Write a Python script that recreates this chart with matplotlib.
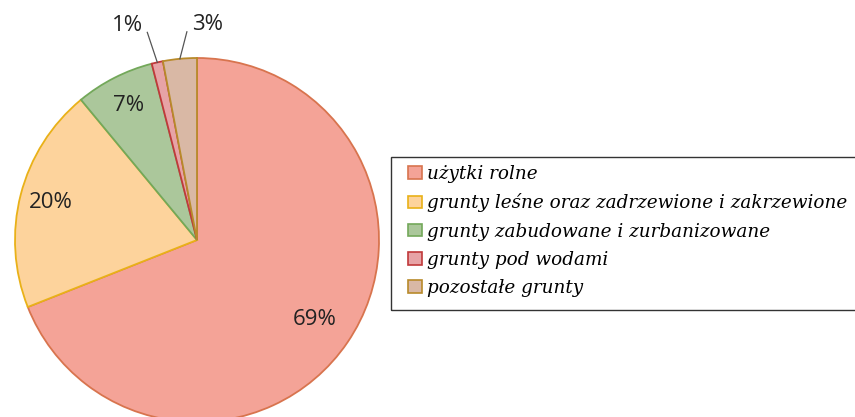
import matplotlib.pyplot as plt
import matplotlib.patches as mpatches
import numpy as np

labels = ['użytki rolne',
          'grunty leśne oraz zadrzewione i zakrzewione',
          'grunty zabudowane i zurbanizowane',
          'grunty pod wodami',
          'pozostałe grunty']
values = [69, 20, 7, 1, 3]
pct_text = ['69%', '20%', '7%', '1%', '3%']

face = ['#f4a397', '#fdd39c', '#abc79b', '#e7a3a6', '#d9b8a5']
edge = ['#d8744e', '#e9b118', '#73a85a', '#c0393b', '#b88a2a']

fig = plt.figure(figsize=(8.55, 4.17), dpi=100)
ax = fig.add_axes([0, 0, 1, 1])

cx, cy, r = 197, 177, 182
wedges, _ = ax.pie(values, colors=face, startangle=90, counterclock=False,
                   center=(cx, cy), radius=r, frame=True,
                   wedgeprops=dict(linewidth=1.3))
for w, ec in zip(wedges, edge):
    w.set_edgecolor(ec)
ax.set_xlim(0, 855)
ax.set_ylim(0, 417)
ax.set_aspect('equal')
ax.axis('off')

# inside labels
inside_dist = [0.78, 0.83, 0.83]
for w, t, d in zip(wedges[:3], pct_text[:3], inside_dist):
    a = np.deg2rad((w.theta1 + w.theta2) / 2)
    ax.text(cx + d * r * np.cos(a), cy + d * r * np.sin(a), t,
            ha='center', va='center', fontsize=16, family='Open Sans',
            color='#222222')

# outside labels with leader lines
text_off = [(-30, 37), (28, 34)]
line_end = [(-10, 30), (7, 27)]
for w, t, off, le in zip(wedges[3:], pct_text[3:], text_off, line_end):
    a = np.deg2rad((w.theta1 + w.theta2) / 2)
    ex, ey = cx + r * np.cos(a), cy + r * np.sin(a)
    ax.text(ex + off[0], ey + off[1], t,
            ha='center', va='center', fontsize=16, family='Open Sans',
            color='#222222')
    ax.plot([ex, ex + le[0]], [ey, ey + le[1]], color='#555555', lw=0.9)

# legend box (runs off the right edge like in the source)
ax.add_patch(mpatches.Rectangle((391, 107), 480, 153, fill=False,
                                edgecolor='#333333', lw=1.0, clip_on=False))

handles = [mpatches.Patch(facecolor=f, edgecolor=e, linewidth=1.2)
           for f, e in zip(face, edge)]
leg = ax.legend(handles, labels, loc='upper left',
                bbox_to_anchor=(408 / 855, 252 / 417),
                prop=dict(family='DejaVu Serif', style='italic', size=13.2),
                frameon=False, handlelength=0.77,
                handleheight=0.66, handletextpad=0.27, labelspacing=0.56,
                borderpad=0, borderaxespad=0)

fig.savefig('out.png', dpi=100)
